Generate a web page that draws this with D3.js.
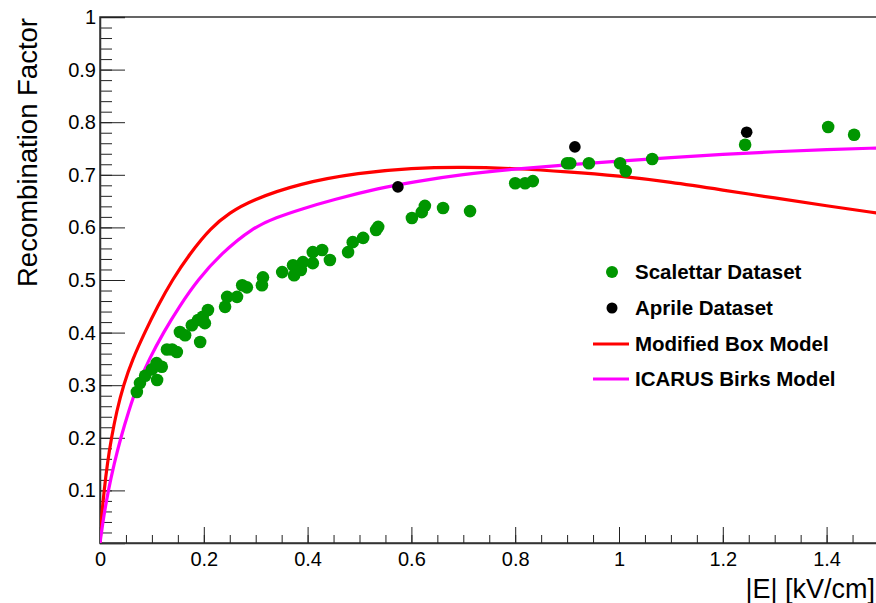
<!DOCTYPE html>
<html>
<head>
<meta charset="utf-8">
<script src="https://cdn.jsdelivr.net/npm/d3@7"></script>
<style>
  body { margin: 0; background: #fff; }
  text { font-family: "Liberation Sans", Arial, Helvetica, sans-serif; fill: #000; }
</style>
</head>
<body>
<div class="chart"></div>
<script>
var svgWidth = 876;
var svgHeight = 603;

// ---- data ----
// Scalettar dataset: field [kV/cm], recombination factor
var scalettarE = [0.071, 0.077, 0.087, 0.100, 0.110, 0.109, 0.119, 0.129, 0.139, 0.148,
  0.154, 0.164, 0.177, 0.189, 0.193, 0.198, 0.202, 0.208, 0.241, 0.245,
  0.264, 0.274, 0.283, 0.312, 0.314, 0.351, 0.372, 0.374, 0.387, 0.391,
  0.410, 0.410, 0.428, 0.443, 0.478, 0.487, 0.507, 0.532, 0.536, 0.601,
  0.620, 0.626, 0.661, 0.713, 0.800, 0.819, 0.834, 0.900, 0.906, 0.942,
  1.002, 1.013, 1.064, 1.243, 1.403, 1.453];
var scalettarR = [0.287, 0.304, 0.318, 0.330, 0.310, 0.342, 0.335, 0.368, 0.368, 0.363,
  0.401, 0.395, 0.414, 0.424, 0.382, 0.430, 0.418, 0.443, 0.449, 0.468,
  0.468, 0.490, 0.486, 0.490, 0.505, 0.515, 0.528, 0.509, 0.519, 0.534,
  0.553, 0.532, 0.557, 0.538, 0.553, 0.572, 0.580, 0.595, 0.601, 0.618,
  0.629, 0.641, 0.637, 0.631, 0.684, 0.684, 0.688, 0.722, 0.722, 0.722,
  0.722, 0.707, 0.730, 0.757, 0.791, 0.776];

// Aprile dataset
var aprileE = [0.574, 0.915, 1.246];
var aprileR = [0.677, 0.753, 0.781];

// Modified Box Model curve
var boxE = [0, 0.003, 0.008, 0.014, 0.022, 0.032, 0.045, 0.063, 0.086, 0.111, 0.139, 0.173,
  0.214, 0.25, 0.29, 0.385, 0.5, 0.6, 0.7, 0.8, 0.9, 1.0, 1.1, 1.2, 1.3, 1.4, 1.5];
var boxR = [0, 0.05, 0.1, 0.15, 0.2, 0.25, 0.3, 0.35, 0.4, 0.45, 0.5, 0.55,
  0.6, 0.628, 0.651, 0.684, 0.704, 0.713, 0.715, 0.712, 0.706, 0.698, 0.686, 0.671, 0.656, 0.641, 0.627];

// ICARUS Birks Model curve
var birksE = [0, 0.007, 0.016, 0.027, 0.04, 0.055, 0.072, 0.095, 0.122, 0.153, 0.188, 0.233,
  0.295, 0.34, 0.385, 0.45, 0.54, 0.6, 0.7, 0.8, 0.9, 1.0, 1.1, 1.2, 1.3, 1.4, 1.5];
var birksR = [0, 0.05, 0.1, 0.15, 0.2, 0.25, 0.3, 0.35, 0.4, 0.45, 0.5, 0.55,
  0.6, 0.619, 0.634, 0.653, 0.675, 0.686, 0.701, 0.711, 0.719, 0.726, 0.733, 0.739, 0.744, 0.748, 0.751];

var xTicks = [0, 0.2, 0.4, 0.6, 0.8, 1, 1.2, 1.4];
var yTicks = [0.1, 0.2, 0.3, 0.4, 0.5, 0.6, 0.7, 0.8, 0.9, 1];

var legendLabels = ["Scalettar Dataset", "Aprile Dataset", "Modified Box Model", "ICARUS Birks Model"];
var legendColors = ["#009600", "#000000", "#ff0000", "#ff00ff"];

// ---- layout ----
var margin = { top: 17, left: 100, bottom: 60 };
var plotRight = 878.5;
var plotBottom = svgHeight - margin.bottom;

var svg = d3.select(".chart")
    .append("svg")
    .attr("width", svgWidth)
    .attr("height", svgHeight);

var xScale = d3.scaleLinear().domain([0, 1.5]).range([margin.left, plotRight]);
var yScale = d3.scaleLinear().domain([0, 1]).range([plotBottom, margin.top]);

// frame
svg.append("rect")
    .attr("x", margin.left)
    .attr("y", margin.top)
    .attr("width", plotRight - margin.left)
    .attr("height", plotBottom - margin.top)
    .attr("fill", "none")
    .attr("stroke", "#333")
    .attr("stroke-width", 1.5);

// x axis: ticks point up into the frame
var xMinor = d3.range(0, 1.5001, 0.05);
svg.append("g")
    .attr("transform", `translate(0,${plotBottom})`)
    .call(d3.axisBottom(xScale).tickValues(xMinor).tickSize(-8).tickFormat(""))
    .call(g => g.select(".domain").remove())
    .selectAll("line").attr("stroke", "#222");

var xAxis = svg.append("g")
    .attr("transform", `translate(0,${plotBottom})`)
    .call(d3.axisBottom(xScale).tickValues(xTicks).tickSize(-16).tickPadding(9)
      .tickFormat(d => d3.format("~g")(d)));
xAxis.select(".domain").attr("stroke", "#333").attr("stroke-width", 1.5);
xAxis.selectAll("line").attr("stroke", "#222");
xAxis.selectAll("text").attr("font-size", "20px");

// y axis: ticks point right into the frame
var yMinor = d3.range(0, 1.0001, 0.02);
svg.append("g")
    .attr("transform", `translate(${margin.left},0)`)
    .call(d3.axisLeft(yScale).tickValues(yMinor).tickSize(-12).tickFormat(""))
    .call(g => g.select(".domain").remove())
    .selectAll("line").attr("stroke", "#222");

var yAxis = svg.append("g")
    .attr("transform", `translate(${margin.left},0)`)
    .call(d3.axisLeft(yScale).tickValues(yTicks).tickSize(-25).tickPadding(4)
      .tickFormat(d => d3.format("~g")(d)));
yAxis.select(".domain").attr("stroke", "#333").attr("stroke-width", 1.5);
yAxis.selectAll("line").attr("stroke", "#222");
yAxis.selectAll("text").attr("font-size", "20px");

// axis titles (ROOT style, aligned to the axis end)
svg.append("text")
    .attr("x", 875)
    .attr("y", 598)
    .attr("text-anchor", "end")
    .attr("font-size", "27px")
    .text("|E| [kV/cm]");

svg.append("text")
    .attr("transform", `translate(37,${margin.top + 1}) rotate(-90)`)
    .attr("text-anchor", "end")
    .attr("font-size", "27.5px")
    .text("Recombination Factor");

// clip to plot area
svg.append("clipPath").attr("id", "plotclip")
  .append("rect")
    .attr("x", margin.left).attr("y", margin.top)
    .attr("width", plotRight - margin.left).attr("height", plotBottom - margin.top);

var plot = svg.append("g").attr("clip-path", "url(#plotclip)");

var line = d3.line()
    .x(d => xScale(d[0]))
    .y(d => yScale(d[1]))
    .curve(d3.curveBasis);

plot.append("path")
    .datum(boxE.map((e, i) => [e, boxR[i]]))
    .attr("d", line)
    .attr("fill", "none")
    .attr("stroke", legendColors[2])
    .attr("stroke-width", 3.2);

plot.append("path")
    .datum(birksE.map((e, i) => [e, birksR[i]]))
    .attr("d", line)
    .attr("fill", "none")
    .attr("stroke", legendColors[3])
    .attr("stroke-width", 3.2);

plot.selectAll(".scal")
    .data(scalettarE.map((e, i) => [e, scalettarR[i]]))
    .join("circle")
    .attr("class", "scal")
    .attr("cx", d => xScale(d[0]))
    .attr("cy", d => yScale(d[1]))
    .attr("r", 6.3)
    .attr("fill", legendColors[0]);

plot.selectAll(".apr")
    .data(aprileE.map((e, i) => [e, aprileR[i]]))
    .join("circle")
    .attr("class", "apr")
    .attr("cx", d => xScale(d[0]))
    .attr("cy", d => yScale(d[1]))
    .attr("r", 5.8)
    .attr("fill", legendColors[1]);

// legend
var legendY = [272, 308, 344, 379];
var legend = svg.append("g");
legendLabels.forEach(function(label, i) {
    if (i < 2) {
        legend.append("circle")
            .attr("cx", 612).attr("cy", legendY[i])
            .attr("r", i == 0 ? 6 : 5.5)
            .attr("fill", legendColors[i]);
    } else {
        legend.append("line")
            .attr("x1", 593).attr("x2", 629)
            .attr("y1", legendY[i]).attr("y2", legendY[i])
            .attr("stroke", legendColors[i])
            .attr("stroke-width", 3.2);
    }
    legend.append("text")
        .attr("x", 635)
        .attr("y", legendY[i])
        .attr("dy", "0.35em")
        .attr("font-size", "20.5px")
        .attr("font-weight", "bold")
        .text(label);
});
</script>
</body>
</html>
